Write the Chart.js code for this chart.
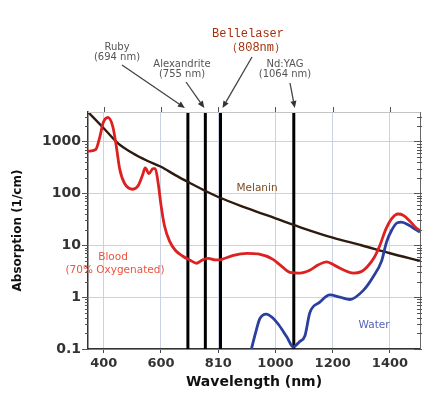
<!DOCTYPE html>
<html>
<head>
<meta charset="utf-8">
<script src="https://cdn.jsdelivr.net/npm/chart.js@4.4.0/dist/chart.umd.min.js"></script>
<style>
html, body { margin: 0; padding: 0; background: #fff; }
#wrap { width: 446px; height: 399px; position: relative; }
</style>
</head>
<body>
<div id="wrap"><canvas id="myChart"></canvas></div>
<script>
// absorption spectra
var melaninNm = [345, 400, 450, 500, 550, 600, 650, 700, 750, 800, 900, 1000, 1100, 1200, 1300, 1400, 1505];
var melanin   = [3700, 1800, 920, 600, 430, 325, 225, 160, 115, 85, 52, 33, 21, 14, 10, 7, 5];

var bloodNm = [345, 372, 386, 398, 415, 432, 444, 456, 473, 502, 520, 535, 545, 558, 572, 580, 590, 600, 612, 630, 650, 675, 700, 725, 745, 765, 790, 810, 850, 900, 940, 990, 1020, 1050, 1085, 1120, 1150, 1178, 1210, 1240, 1272, 1300, 1320, 1345, 1365, 1385, 1405, 1428, 1446, 1470, 1490, 1505];
var blood   = [650, 700, 1200, 2300, 2900, 1900, 800, 290, 155, 120, 140, 220, 310, 240, 300, 300, 160, 60, 24, 12, 8, 6.2, 5.2, 4.5, 5.2, 5.6, 5.2, 5.3, 6.3, 7, 6.8, 5.4, 4, 3, 2.9, 3.3, 4.2, 4.8, 4, 3.3, 2.9, 3.1, 3.8, 5.8, 10, 20, 32, 40, 38, 29, 22, 19];

var waterNm = [916, 930, 945, 968, 990, 1010, 1040, 1062, 1085, 1103, 1120, 1155, 1190, 1225, 1260, 1307, 1342, 1371, 1388, 1405, 1425, 1440, 1468, 1490, 1505];
var water   = [0.1, 0.2, 0.38, 0.47, 0.4, 0.3, 0.17, 0.11, 0.14, 0.18, 0.5, 0.8, 1.1, 1.0, 0.9, 1.35, 2.5, 5, 11.5, 19, 27, 28, 24, 20, 18];

var laserNm    = [694, 755, 808, 1064];
var laserName  = ['Ruby', 'Alexandrite', 'Bellelaser', 'Nd:YAG'];
var laserSub   = ['(694 nm)', '(755 nm)', '\uFF08808nm\uFF09', '(1064 nm)'];

var xTicks      = [400, 600, 800, 1000, 1200, 1400];
var xTickLabels = ['400', '600', '810', '1000', '1200', '1400'];
var yTicks      = [0.1, 1, 10, 100, 1000];
var yTickLabels = ['0.1', '1', '10', '100', '1000'];

var xMin = 345, xMax = 1505, yMin = 0.1, yMax = 3700;

function pairs(xs, ys) {
  return xs.map(function(x, i) { return { x: x, y: ys[i] }; });
}

function arrow(ctx, x1, y1, x2, y2) {
  var ang = Math.atan2(y2 - y1, x2 - x1), hl = 7, hw = 3;
  ctx.beginPath();
  ctx.moveTo(x1, y1);
  ctx.lineTo(x2 - Math.cos(ang) * hl, y2 - Math.sin(ang) * hl);
  ctx.stroke();
  ctx.beginPath();
  ctx.moveTo(x2, y2);
  ctx.lineTo(x2 - Math.cos(ang) * hl - Math.sin(ang) * hw, y2 - Math.sin(ang) * hl + Math.cos(ang) * hw);
  ctx.lineTo(x2 - Math.cos(ang) * hl + Math.sin(ang) * hw, y2 - Math.sin(ang) * hl - Math.cos(ang) * hw);
  ctx.closePath();
  ctx.fill();
}

var decor = {
  id: 'decor',
  afterDraw: function(chart) {
    var ctx = chart.ctx, a = chart.chartArea;
    var xs = chart.scales.x, ys = chart.scales.y;
    ctx.save();

    // top + right frame
    ctx.lineWidth = 1;
    ctx.strokeStyle = '#c4c4c4';
    ctx.beginPath();
    ctx.moveTo(a.left, a.top + 0.5); ctx.lineTo(a.right, a.top + 0.5);
    ctx.stroke();
    ctx.strokeStyle = '#666';
    ctx.beginPath();
    ctx.moveTo(a.right + 0.5, a.top); ctx.lineTo(a.right + 0.5, a.bottom);
    ctx.stroke();

    // log minor ticks on both sides
    ctx.strokeStyle = '#555';
    ctx.beginPath();
    for (var d = -1; d < 4; d++) {
      for (var m = 1; m < 10; m++) {
        var v = m * Math.pow(10, d);
        if (v > yMax) break;
        var py = Math.round(ys.getPixelForValue(v)) + 0.5;
        var len = m === 1 ? 6 : 3;
        ctx.moveTo(a.left - len, py); ctx.lineTo(a.left, py);
        ctx.moveTo(a.right - len, py); ctx.lineTo(a.right + 2, py);
      }
    }
    // ticks above the top edge
    xTicks.forEach(function(t) {
      var px = Math.round(xs.getPixelForValue(t)) + 0.5;
      ctx.moveTo(px, a.top - 5); ctx.lineTo(px, a.top);
    });
    ctx.stroke();

    // laser annotations
    var textPos = [[117, 47], [182, 64], [248, 34], [285, 64]];
    var tails = [[122, 65], [186, 82], [252, 57], [290, 83]];
    var tipOff = [-3, -1, 2, 1];
    ctx.textAlign = 'center';
    ctx.textBaseline = 'middle';
    laserNm.forEach(function(nm, i) {
      var p = textPos[i];
      if (i === 2) {
        ctx.fillStyle = '#a3300c';
        ctx.font = '12px "Liberation Mono", monospace';
        ctx.fillText(laserName[i], p[0], p[1]);
        ctx.fillText(laserSub[i], p[0] + 8, p[1] + 14);
      } else {
        ctx.fillStyle = '#555';
        ctx.font = '10px "DejaVu Sans", sans-serif';
        ctx.fillText(laserName[i], p[0], p[1]);
        ctx.fillText(laserSub[i], p[0], p[1] + 10);
      }
      ctx.strokeStyle = '#444';
      ctx.fillStyle = '#333';
      ctx.lineWidth = 1.3;
      arrow(ctx, tails[i][0], tails[i][1], xs.getPixelForValue(nm) + tipOff[i], a.top - 4);
    });

    // curve labels
    ctx.font = '10.5px "DejaVu Sans", sans-serif';
    ctx.fillStyle = '#7a4a22';
    ctx.fillText('Melanin', 257, 188);
    ctx.fillStyle = '#e8553e';
    ctx.fillText('Blood', 113, 257);
    ctx.fillText('(70% Oxygenated)', 115, 270);
    ctx.fillStyle = '#5563b5';
    ctx.fillText('Water', 374, 325);
    ctx.restore();
  }
};

var datasets = [
  { label: 'Blood', data: pairs(bloodNm, blood), borderColor: '#dd2020', borderWidth: 2.8 },
  { label: 'Water', data: pairs(waterNm, water), borderColor: '#2b3f9e', borderWidth: 2.8 },
  { label: 'Melanin', data: pairs(melaninNm, melanin), borderColor: '#2e1a0e', borderWidth: 2.4 }
];
laserNm.forEach(function(nm, i) {
  datasets.push({ label: laserName[i], data: [{ x: nm, y: yMin }, { x: nm, y: yMax }], borderColor: '#000', borderWidth: 3, tension: 0 });
});
datasets.forEach(function(ds) {
  ds.pointRadius = 0;
  ds.fill = false;
  if (ds.tension === undefined) ds.cubicInterpolationMode = 'monotone';
});

var ctx = document.getElementById('myChart').getContext('2d');
var chart = new Chart(ctx, {
  type: 'line',
  data: { datasets: datasets },
  options: {
    responsive: true,
    maintainAspectRatio: false,
    animation: false,
    layout: { padding: { top: 112, right: 26, left: 0, bottom: 0 } },
    plugins: { legend: { display: false }, tooltip: { enabled: false } },
    scales: {
      x: {
        type: 'linear',
        min: xMin,
        max: xMax,
        afterBuildTicks: function(scale) { scale.ticks = xTicks.map(function(v) { return { value: v }; }); },
        afterFit: function(scale) { scale.height = 50; },
        grid: { color: '#ccd2e6', tickColor: '#444', tickLength: 4 },
        border: { color: '#333', width: 1.5 },
        ticks: {
          color: '#333',
          padding: 3,
          maxRotation: 0,
          font: { family: 'DejaVu Sans', size: 13, weight: 'bold' },
          callback: function(v) { return xTickLabels[xTicks.indexOf(v)]; }
        },
        title: {
          display: true,
          text: 'Wavelength (nm)',
          color: '#111',
          padding: { top: 0, bottom: 8 },
          font: { family: 'DejaVu Sans', size: 14, weight: 'bold' }
        }
      },
      y: {
        type: 'logarithmic',
        min: yMin,
        max: yMax,
        afterBuildTicks: function(scale) { scale.ticks = yTicks.map(function(v) { return { value: v }; }); },
        afterFit: function(scale) { scale.width = 88; },
        grid: { color: '#ccd2e6', drawTicks: false },
        border: { color: '#333', width: 1.5 },
        ticks: {
          color: '#333',
          padding: 7,
          font: { family: 'DejaVu Sans', size: 14, weight: 'bold' },
          callback: function(v) { return yTickLabels[yTicks.indexOf(v)]; }
        },
        title: {
          display: true,
          text: 'Absorption (1/cm)',
          color: '#111',
          padding: { top: 11, bottom: 0 },
          font: { family: 'DejaVu Sans', size: 12, weight: 'bold' }
        }
      }
    }
  },
  plugins: [decor]
});
</script>
</body>
</html>
